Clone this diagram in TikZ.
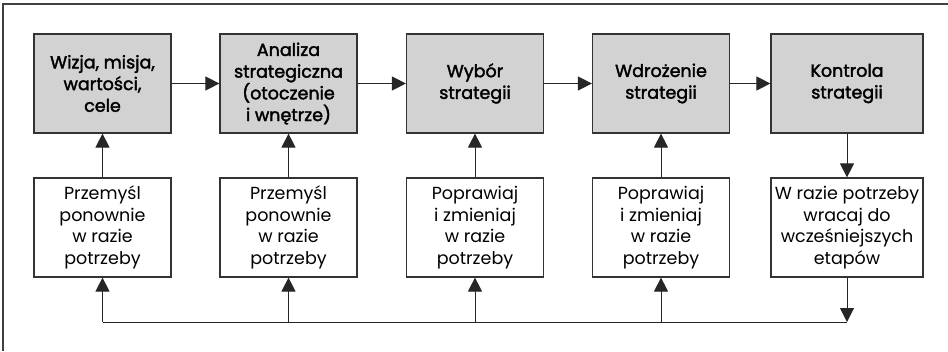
\documentclass[tikz,border=0pt]{standalone}
\usepackage{fontspec}
\setmainfont{Poppins}
\newfontfamily\popmed[FakeBold=2]{Poppins}
\usetikzlibrary{arrows.meta}
\begin{document}
\begin{tikzpicture}[x=1pt,y=-1pt,
  top/.style={draw=black!80, line width=1.2pt, fill=gray!35!white, minimum width=137pt, minimum height=99pt, inner sep=2pt, align=center, font=\popmed\fontsize{17.5}{21.7}\selectfont},
  bot/.style={draw=black!80, line width=1.2pt, fill=white, minimum width=137pt, minimum height=99pt, inner sep=2pt, align=center, font=\fontsize{17.5}{21.7}\selectfont},
  arr/.style={draw=black!85, line width=1pt, -{Triangle[length=14pt,width=14pt]}},
  ln/.style={draw=black!85, line width=1pt}]
\useasboundingbox (0,0) rectangle (948,351);
\draw[line width=1.4pt, black!75] (3,351) -- (3,4) -- (948,4);
\node[top] (t1) at (102.5,83.5) {Wizja, misja,\\wartości,\\cele};
\node[top] (t2) at (288.5,83.5) {Analiza\\strategiczna\\(otoczenie\\i wnętrze)};
\node[top] (t3) at (475,83.5) {Wybór\\strategii};
\node[top] (t4) at (661,83.5) {Wdrożenie\\strategii};
\node[top, minimum width=152pt] (t5) at (847,83.5) {Kontrola\\strategii};
\node[bot] (b1) at (102.5,227.5) {Przemyśl\\ponownie\\w razie\\potrzeby};
\node[bot] (b2) at (288.5,227.5) {Przemyśl\\ponownie\\w razie\\potrzeby};
\node[bot] (b3) at (475,227.5) {Poprawiaj\\i zmieniaj\\w razie\\potrzeby};
\node[bot] (b4) at (661,227.5) {Poprawiaj\\i zmieniaj\\w razie\\potrzeby};
\node[bot, minimum width=152pt] (b5) at (847,227.5) {W razie potrzeby\\wracaj do\\wcześniejszych\\etapów};
\draw[arr] (t1) -- (t2);
\draw[arr] (t2) -- (t3);
\draw[arr] (t3) -- (t4);
\draw[arr] (t4) -- (t5);
\foreach \i in {1,2,3,4} \draw[arr] (b\i) -- (t\i);
\draw[arr] (t5) -- (b5);
\coordinate (e) at (847,322);
\coordinate (s) at (102.5,322);
\draw[arr] (b5) -- (e);
\draw[ln] (s) -- (e);
\foreach \i in {1,2,3,4} \draw[arr] (s -| b\i) -- (b\i);
\end{tikzpicture}
\end{document}
